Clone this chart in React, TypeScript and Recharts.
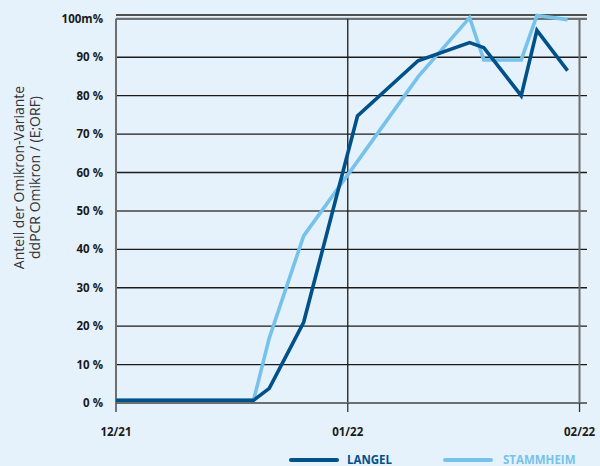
import React from 'react';
import { LineChart, Line, XAxis, YAxis, CartesianGrid, ReferenceLine, Legend } from 'recharts';

// days since 1 Dec 2021
const days = [0, 18.4, 20.5, 25.1, 32.3, 40.4, 47.3, 49.2, 54.2, 56.3, 60.4];
const langel = [0.7, 0.7, 3.8, 21.0, 74.7, 89.1, 93.8, 92.5, 80.0, 97.0, 86.5];
const stammheim = [0.7, 0.7, 16.9, 43.5, 62.9, 84.9, 100.3, 89.3, 89.3, 100.9, 99.8];

const xTicks = [0, 31, 62];
const xTickLabels = ['12/21', '01/22', '02/22'];
const yTicks = [0, 10, 20, 30, 40, 50, 60, 70, 80, 90, 100];
const yTickLabels = ['0 %', '10 %', '20 %', '30 %', '40 %', '50 %', '60 %', '70 %', '80 %', '90 %', '100m%'];

const data = days.map((d, i) => ({ day: d, langel: langel[i], stammheim: stammheim[i] }));

const DARK = '#00508a';
const LIGHT = '#76c2ea';
const BG = '#e6f2fb';
const FONT = '"Open Sans", sans-serif';

const legendPos = [
  { lineX: 291, textX: 347 },
  { lineX: 445, textX: 503 },
];

const renderLegend = (props: any) => {
  const payload = props.payload || [];
  return (
    <svg width={600} height={14} style={{ display: 'block' }}>
      {payload.map((p: any, i: number) => (
        <g key={i}>
          <line x1={legendPos[i].lineX} x2={legendPos[i].lineX + 46} y1={8} y2={8} stroke={p.color} strokeWidth={4} strokeLinecap="round" />
          <text x={legendPos[i].textX} y={11.5} fill={p.color} fontSize={11.5} fontWeight={700} fontFamily={FONT}>
            {p.value}
          </text>
        </g>
      ))}
    </svg>
  );
};

const AxisTitle = (props: any) => {
  const cy = 177.5;
  return (
    <g fill="#333" fontSize={14} fontFamily={FONT}>
      <text x={24} y={cy} textAnchor="middle" transform={`rotate(-90, 24, ${cy})`}>Anteil der Omikron-Variante</text>
      <text x={40} y={cy} textAnchor="middle" transform={`rotate(-90, 40, ${cy})`}>ddPCR Omikron / (E;ORF)</text>
    </g>
  );
};

export default function App() {
  return (
    <div style={{ position: 'absolute', left: 0, top: 0, width: 600, height: 466, background: BG, overflow: 'hidden' }}>
      <LineChart width={600} height={466} data={data} margin={{ top: 15, right: 13, bottom: 0, left: 0 }} style={{ fontFamily: FONT }}>
        <CartesianGrid horizontal vertical={false} stroke="#1b1b1b" strokeWidth={1.3} />
        <ReferenceLine y={100} stroke="#6e6e6e" strokeWidth={2} />
        <ReferenceLine y={50} stroke="#6e6e6e" strokeWidth={2} />
        <ReferenceLine segment={[{ x: 0, y: 0 }, { x: 0, y: 100 }]} stroke="#6e6e6e" strokeWidth={2} />
        <ReferenceLine segment={[{ x: 31, y: 0 }, { x: 31, y: 100 }]} stroke="#1b1b1b" strokeWidth={1.3} />
        <ReferenceLine segment={[{ x: 62, y: 0 }, { x: 62, y: 100 }]} stroke="#6e6e6e" strokeWidth={2} />
        <XAxis
          dataKey="day"
          type="number"
          domain={[0, 63]}
          ticks={xTicks}
          tickFormatter={(v: number) => xTickLabels[xTicks.indexOf(v)]}
          height={63}
          tickSize={9}
          tickMargin={16}
          axisLine={{ stroke: '#6e6e6e', strokeWidth: 2 }}
          tickLine={{ stroke: '#333', strokeWidth: 1.3 }}
          tick={{ fontSize: 11.5, fontWeight: 700, fill: '#1a1a1a', fontFamily: FONT }}
        />
        <YAxis
          type="number"
          domain={[0, 101]}
          ticks={yTicks}
          tickFormatter={(v: number) => yTickLabels[yTicks.indexOf(v)]}
          width={116}
          axisLine={false}
          tickLine={false}
          tickSize={0}
          tickMargin={13}
          tick={{ fontSize: 11.5, fontWeight: 700, fill: '#1a1a1a', fontFamily: FONT }}
          label={{ content: <AxisTitle /> }}
        />
        <Legend
          layout="horizontal"
          verticalAlign="middle"
          align="center"
          content={renderLegend}
          wrapperStyle={{ position: 'absolute', top: 452, left: 0, width: 600, height: 14 }}
        />
        <Line type="linear" dataKey="stammheim" name="STAMMHEIM" stroke={LIGHT} strokeWidth={3.6} dot={false} isAnimationActive={false} />
        <Line type="linear" dataKey="langel" name="LANGEL" stroke={DARK} strokeWidth={3.6} dot={false} isAnimationActive={false} />
      </LineChart>
    </div>
  );
}
